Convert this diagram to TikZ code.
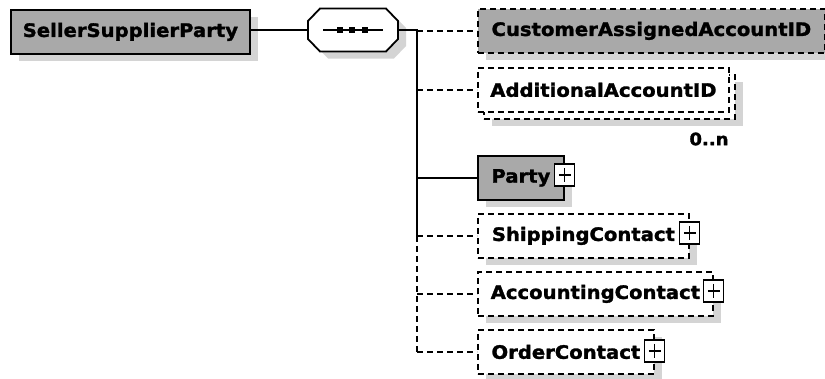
\documentclass[tikz,border=0pt]{standalone}
\usepackage{fontspec}
\newfontfamily\lblfont{DejaVu Sans}[FakeStretch=1.06, BoldFeatures={FakeBold=1.6}]
\usetikzlibrary{shadows}
\definecolor{boxgray}{HTML}{A9A9A9}
\definecolor{shadowgray}{HTML}{D4D4D4}
\tikzset{
  lw/.style={line width=1.8pt},
  dsh/.style={dash pattern=on 6pt off 4pt},
  shad/.style={drop shadow={shadow xshift=8pt, shadow yshift=-7pt, fill=shadowgray, opacity=1}},
  elem/.style={draw=black, lw, minimum height=44pt, anchor=north west, inner sep=0pt,
    font=\lblfont\bfseries\fontsize{18.5}{20}\selectfont},
  grayelem/.style={elem, fill=boxgray},
  whiteelem/.style={elem, fill=white},
  plusbox/.style={draw=black, line width=1.3pt, fill=white, minimum width=20pt, minimum height=22pt, inner sep=0pt,
    path picture={
      \draw[line width=1.3pt] ([yshift=-4pt]path picture bounding box.north) -- ([yshift=4pt]path picture bounding box.south);
      \draw[line width=1.3pt] ([xshift=4pt]path picture bounding box.west) -- ([xshift=-4pt]path picture bounding box.east);
    }},
  seqanchor/.style={minimum width=90pt, minimum height=43pt, inner sep=0pt},
  dot/.style={fill=black, minimum size=5.5pt, inner sep=0pt},
}
\begin{document}
\begin{tikzpicture}[x=1pt,y=-1pt]
\useasboundingbox (0,0) rectangle (825,378);
\fill[white] (0,0) rectangle (825,378);
% root
\node[grayelem, shad, minimum width=239pt] (root) at (10,9) {SellerSupplierParty};
% sequence compositor (octagon)
\node[seqanchor] (seq) at (353,30) {};
\fill[shadowgray, shift={(8,7)}] (320,8.5) -- (386,8.5) -- (398,21) -- (398,39) -- (386,51.5) -- (320,51.5) -- (308,39) -- (308,21) -- cycle;
\draw[lw, fill=white] (320,8.5) -- (386,8.5) -- (398,21) -- (398,39) -- (386,51.5) -- (320,51.5) -- (308,39) -- (308,21) -- cycle;
\coordinate (sl) at (323,30);
\coordinate (sr) at (383,30);
\draw[line width=1.5pt] (sl) -- (sr);
\node[dot] (d1) at (340,30) {};
\node[dot] (d2) at (352,30) {};
\node[dot] (d3) at (365,30) {};
\draw[lw] (root.east |- seq.west) -- (seq.west);
\coordinate (T) at (417,0);
% children
\node[grayelem, dsh, shad, minimum width=347pt] (cust) at (477,8) {CustomerAssignedAccountID};
\node[whiteelem, dsh, shad, minimum width=251pt] (addback) at (483,74) {};
\node[whiteelem, dsh, minimum width=251pt] (add) at (477,67) {AdditionalAccountID};
\node[font=\lblfont\bfseries\fontsize{17}{19}\selectfont, anchor=center] (occ) at (709,139) {0..n};
\node[grayelem, shad, minimum width=86pt] (party) at (477,155) {Party};
\node[whiteelem, dsh, shad, minimum width=211pt] (ship) at (477,213) {ShippingContact};
\node[whiteelem, dsh, shad, minimum width=235pt] (acct) at (477,271) {AccountingContact};
\node[whiteelem, dsh, shad, minimum width=176pt] (order) at (477,329) {OrderContact};
% plus boxes
\node[plusbox] (p1) at ([yshift=3pt]party.east) {};
\node[plusbox] (p2) at ([yshift=3pt]ship.east) {};
\node[plusbox] (p3) at ([yshift=3pt]acct.east) {};
\node[plusbox] (p4) at ([yshift=1pt]order.east) {};
% trunk
\draw[lw] (seq.east) -- (seq.east -| T) -- (ship.west -| T);
\draw[lw, dsh] (ship.west -| T) -- (order.west -| T);
% branches
\draw[lw, dsh] (cust.west -| T) -- (cust.west);
\draw[lw, dsh] (add.west -| T) -- (add.west);
\draw[lw] (party.west -| T) -- (party.west);
\draw[lw, dsh] (ship.west -| T) -- (ship.west);
\draw[lw, dsh] (acct.west -| T) -- (acct.west);
\draw[lw, dsh] (order.west -| T) -- (order.west);
\end{tikzpicture}
\end{document}
